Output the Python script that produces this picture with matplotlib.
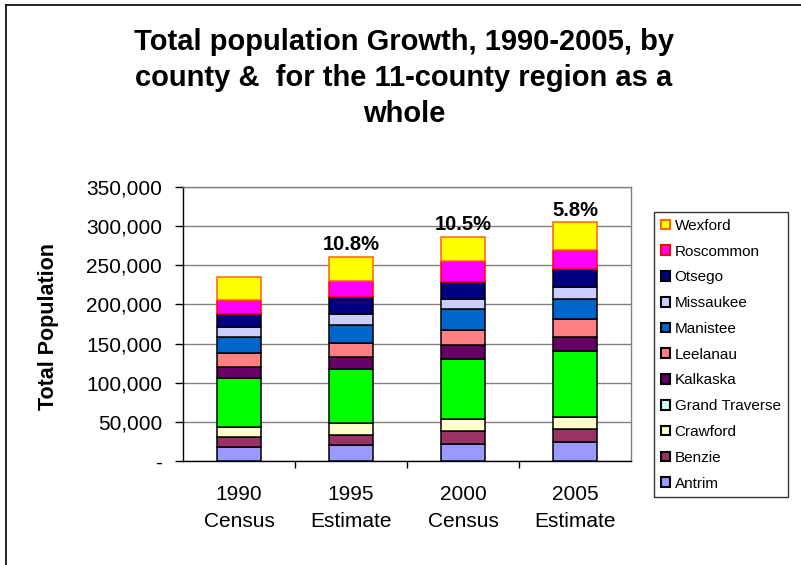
import numpy as np
import matplotlib.pyplot as plt
from matplotlib.patches import Patch
from matplotlib.lines import Line2D
from matplotlib.ticker import FuncFormatter, FixedLocator

plt.rcParams["font.family"] = ["Liberation Sans", "DejaVu Sans"]

periods = ["1990\nCensus", "1995\nEstimate", "2000\nCensus", "2005\nEstimate"]
growth_labels = ["", "10.8%", "10.5%", "5.8%"]

# population per county (bottom to top)
antrim = [17300, 19800, 22000, 24900]
benzie = [13100, 12800, 16100, 15800]
crawford = [12800, 16300, 15900, 14900]
grand_traverse = [62700, 68100, 75800, 84400]
kalkaska = [14100, 15800, 17900, 18000]
leelanau = [17500, 17900, 20100, 23000]
manistee = [20800, 23500, 26000, 25600]
missaukee = [12800, 14100, 13700, 15700]
otsego = [17200, 21200, 21200, 22600]
roscommon = [17900, 20100, 26500, 25200]
wexford = [28900, 31100, 31000, 34600]

counties = ["Antrim", "Benzie", "Crawford", "Grand Traverse", "Kalkaska", "Leelanau",
            "Manistee", "Missaukee", "Otsego", "Roscommon", "Wexford"]
series = [antrim, benzie, crawford, grand_traverse, kalkaska, leelanau,
          manistee, missaukee, otsego, roscommon, wexford]
bar_colors = ["#9999FF", "#993366", "#FFFFCC", "#00FF00", "#660066", "#FF8080",
              "#0066CC", "#CCCCFF", "#000080", "#FF00FF", "#FFFF00"]
# the legend swatch for Grand Traverse is light cyan in the original
legend_colors = bar_colors[:3] + ["#CCFFFF"] + bar_colors[4:]
edge_colors = ["black"] * 9 + ["#FF0000", "#FF6600"]

fig = plt.figure(figsize=(8.01, 5.65), dpi=100)
ax = fig.add_axes([183 / 801, 1 - 461 / 565, 448 / 801, 274 / 565])

x = np.arange(len(periods))
bottom = np.zeros(len(periods))
for vals, fc, ec in zip(series, bar_colors, edge_colors):
    ax.bar(x, vals, width=0.39, bottom=bottom, color=fc, edgecolor=ec, linewidth=1.1, zorder=3)
    bottom += np.array(vals)

for xi, total, lab in zip(x, bottom, growth_labels):
    if lab:
        ax.annotate(lab, (xi, total), xytext=(0, 2), textcoords="offset points",
                    ha="center", va="bottom", fontsize=14.5, fontweight="bold")

ax.set_xlim(-0.5, 3.5)
ax.set_ylim(0, 350000)
ax.set_yticks(np.arange(0, 350001, 50000))
ax.yaxis.set_major_formatter(FuncFormatter(lambda v, p: "-" if v == 0 else f"{int(v):,}"))
ax.grid(axis="y", color="#808080", linewidth=1.0, zorder=0)
ax.set_axisbelow(True)

ax.set_xticks(x)
ax.set_xticklabels(periods, fontsize=15, linespacing=1.58)
ax.xaxis.set_minor_locator(FixedLocator([0.5, 1.5, 2.5]))
ax.tick_params(axis="x", which="major", length=0, pad=17)
ax.tick_params(axis="x", which="minor", length=5, width=1, direction="out")
ax.tick_params(axis="y", length=6, width=1, direction="out", labelsize=15, pad=9)

for s in ["top", "right"]:
    ax.spines[s].set_color("#808080")
for s in ["left", "bottom"]:
    ax.spines[s].set_color("black")
for s in ax.spines.values():
    s.set_linewidth(1.0)

ax.set_ylabel("Total Population", fontsize=15.5, fontweight="bold")
ax.yaxis.set_label_coords(-0.277, 0.49)

fig.text(404 / 801, 1 - 78 / 565,
         "Total population Growth, 1990-2005, by\ncounty &  for the 11-county region as a\nwhole",
         ha="center", va="center", fontsize=21, fontweight="bold", linespacing=1.35)

handles = [Patch(facecolor=fc, edgecolor=ec, linewidth=1.5)
           for fc, ec in zip(legend_colors, edge_colors)]
leg = fig.legend(handles[::-1], counties[::-1], loc="upper left",
                 bbox_to_anchor=(654 / 801, 1 - 212 / 565), borderaxespad=0,
                 fontsize=11, frameon=True, fancybox=False, handlelength=0.6,
                 handleheight=0.6, handletextpad=0.3, labelspacing=0.77,
                 borderpad=0.45)
leg.get_frame().set_edgecolor("black")
leg.get_frame().set_linewidth(1.0)

# outer chart border (only left and top edges are inside the picture)
fig.add_artist(Line2D([6 / 801, 6 / 801], [0, 1 - 5 / 565], color="black", linewidth=1.2))
fig.add_artist(Line2D([6 / 801, 1], [1 - 5 / 565, 1 - 5 / 565], color="black", linewidth=1.2))

fig.savefig("out.png", dpi=100)
